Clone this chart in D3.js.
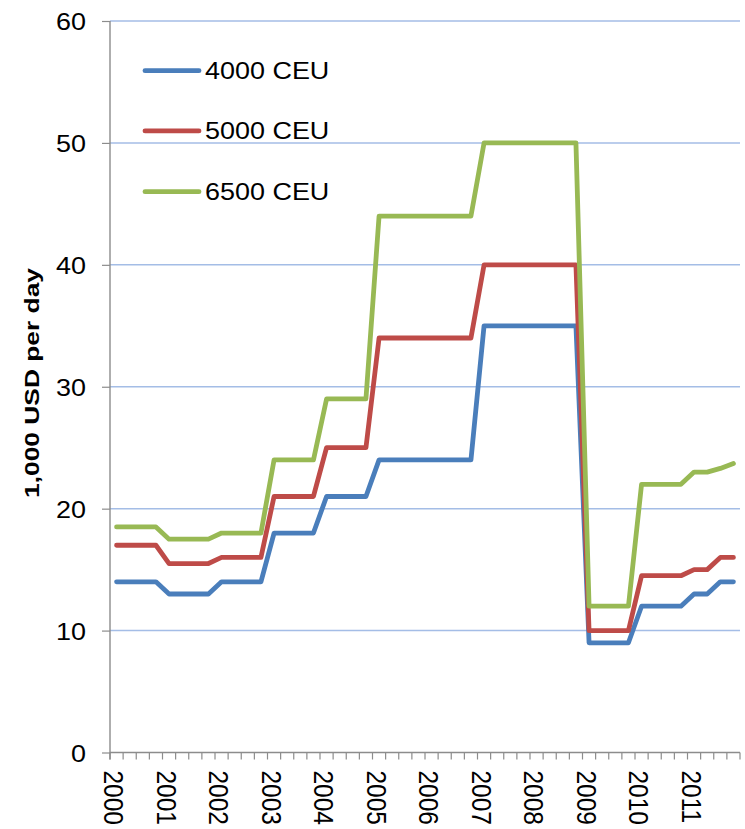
<!DOCTYPE html>
<html>
<head>
<meta charset="utf-8">
<script src="https://cdn.jsdelivr.net/npm/d3@7/dist/d3.min.js"></script>
<style>
  body { margin: 0; background: #fff; }
  svg { display: block; }
  text { font-family: "Liberation Sans", Arial, sans-serif; fill: #000; }
</style>
</head>
<body>
<svg id="chart" width="745" height="829"></svg>
<script>
// Quarterly time-charter rates, thousand USD per day
const years = ["2000", "2001", "2002", "2003", "2004", "2005",
               "2006", "2007", "2008", "2009", "2010", "2011"];
const quarterNames = ["Q1", "Q2", "Q3", "Q4"];
const quarters = years.flatMap(yr => quarterNames.map(q => yr + q));

const ceu4000 = [14, 14, 14, 14, 13, 13, 13, 13, 14, 14, 14, 14,
                 18, 18, 18, 18, 21, 21, 21, 21, 24, 24, 24, 24,
                 24, 24, 24, 24, 35, 35, 35, 35, 35, 35, 35, 35,
                 9, 9, 9, 9, 12, 12, 12, 12, 13, 13, 14, 14];
const ceu5000 = [17, 17, 17, 17, 15.5, 15.5, 15.5, 15.5, 16, 16, 16, 16,
                 21, 21, 21, 21, 25, 25, 25, 25, 34, 34, 34, 34,
                 34, 34, 34, 34, 40, 40, 40, 40, 40, 40, 40, 40,
                 10, 10, 10, 10, 14.5, 14.5, 14.5, 14.5, 15, 15, 16, 16];
const ceu6500 = [18.5, 18.5, 18.5, 18.5, 17.5, 17.5, 17.5, 17.5, 18, 18, 18, 18,
                 24, 24, 24, 24, 29, 29, 29, 29, 44, 44, 44, 44,
                 44, 44, 44, 44, 50, 50, 50, 50, 50, 50, 50, 50,
                 12, 12, 12, 12, 22, 22, 22, 22, 23, 23, 23.3, 23.7];

const seriesNames = ["4000 CEU", "5000 CEU", "6500 CEU"];
const seriesColors = ["#4a7ebb", "#be4b48", "#98b954"];
const seriesValues = [ceu4000, ceu5000, ceu6500];

const yTicks = [0, 10, 20, 30, 40, 50, 60];

// Layout
const plotLeft = 110, plotRight = 740, plotTop = 21, plotBottom = 752.5;
const stretch = 1.1;           // horizontal text stretch
const fontSize = 24.5;

const svg = d3.select("#chart");

const x = d3.scaleBand().domain(quarters).range([plotLeft, plotRight]).padding(0);
const y = d3.scaleLinear().domain([0, 60]).range([plotBottom, plotTop]);
const bw = x.bandwidth();

// Horizontal gridlines
svg.append("g")
  .selectAll("line")
  .data(yTicks.filter(t => t > 0))
  .join("line")
  .attr("x1", plotLeft).attr("x2", plotRight)
  .attr("y1", d => y(d)).attr("y2", d => y(d))
  .attr("stroke", "#a4bde6")
  .attr("stroke-width", 1.5);

// Y axis
const yAxis = svg.append("g")
  .attr("transform", `translate(${plotLeft},0)`)
  .call(d3.axisLeft(y).tickValues(yTicks).tickSize(8).tickSizeOuter(0).tickFormat(d3.format("d")));
yAxis.select(".domain").remove();
yAxis.selectAll(".tick line").attr("stroke", "#8c8c8c").attr("stroke-width", 1.2);
yAxis.selectAll(".tick text")
  .attr("x", null)
  .attr("dy", null)
  .attr("transform", `translate(-24,8.6) scale(${stretch},1)`)
  .attr("text-anchor", "end")
  .style("font-size", fontSize + "px")
  .style("font-family", '"Liberation Sans", Arial, sans-serif')
  .attr("fill", "#000");
svg.append("line")
  .attr("x1", plotLeft).attr("x2", plotLeft)
  .attr("y1", plotTop).attr("y2", plotBottom + 7)
  .attr("stroke", "#8c8c8c").attr("stroke-width", 1.4);

// X axis: tick marks at quarter boundaries, labels at each year's first quarter
const xAxis = svg.append("g")
  .attr("transform", `translate(0,${plotBottom})`)
  .call(d3.axisBottom(x)
    .tickValues(quarters.filter((q, i) => i % 4 === 0))
    .tickFormat(q => q.slice(0, 4))
    .tickSize(0));
xAxis.select(".domain").remove();
xAxis.selectAll(".tick text")
  .attr("y", null)
  .attr("dy", null)
  .attr("text-anchor", "start")
  .attr("transform", `translate(-12.5,18) scale(${stretch},1) rotate(90)`)
  .style("font-size", fontSize + "px")
  .style("font-family", '"Liberation Sans", Arial, sans-serif')
  .attr("fill", "#000");

const boundaries = quarters.map(q => x(q)).concat([plotRight]);
svg.append("g")
  .selectAll("line")
  .data(boundaries)
  .join("line")
  .attr("x1", d => d).attr("x2", d => d)
  .attr("y1", plotBottom).attr("y2", plotBottom + 7)
  .attr("stroke", "#8c8c8c").attr("stroke-width", 1.2);
svg.append("line")
  .attr("x1", plotLeft).attr("x2", plotRight)
  .attr("y1", plotBottom).attr("y2", plotBottom)
  .attr("stroke", "#8c8c8c").attr("stroke-width", 1.4);

// Y axis title (condensed across the line height)
svg.append("text")
  .attr("transform", "translate(38.5,383) scale(0.8,1) rotate(-90)")
  .attr("text-anchor", "middle")
  .attr("textLength", 230)
  .attr("lengthAdjust", "spacingAndGlyphs")
  .style("font-size", "26px")
  .style("font-weight", "bold")
  .text("1,000 USD per day");

// Series lines
const line = d3.line()
  .x((d, i) => x(quarters[i]) + bw / 2)
  .y(d => y(d));

svg.append("g")
  .selectAll("path")
  .data(seriesValues)
  .join("path")
  .attr("d", d => line(d))
  .attr("fill", "none")
  .attr("stroke", (d, i) => seriesColors[i])
  .attr("stroke-width", 4.8)
  .attr("stroke-linejoin", "round")
  .attr("stroke-linecap", "round");

// Legend
const legendRows = [70.7, 130.9, 191.7];
const legend = svg.append("g")
  .selectAll("g")
  .data(seriesNames)
  .join("g")
  .attr("transform", (d, i) => `translate(0,${legendRows[i]})`);
legend.append("line")
  .attr("x1", 145).attr("x2", 199)
  .attr("y1", 0).attr("y2", 0)
  .attr("stroke", (d, i) => seriesColors[i])
  .attr("stroke-width", 4.8)
  .attr("stroke-linecap", "round");
legend.append("text")
  .attr("transform", `translate(205,7.8) scale(${stretch},1)`)
  .style("font-size", fontSize + "px")
  .text(d => d);
</script>
</body>
</html>
